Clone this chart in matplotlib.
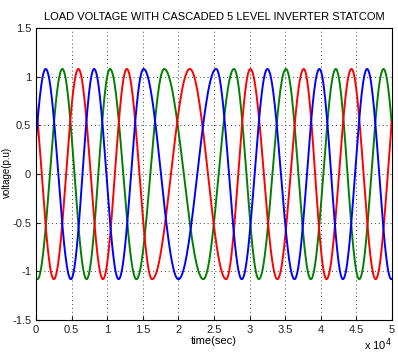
import numpy as np
import matplotlib
matplotlib.use("Agg")
import matplotlib.pyplot as plt
from matplotlib.ticker import FuncFormatter

plt.rcParams['font.family'] = ['Liberation Sans', 'DejaVu Sans']

# peak / trough positions (x 1e4), alternating sign
amp = 1.08
blue_t = [-0.21, 0.136, 0.49, 0.816, 1.16, 1.51, 2.00, 2.53, 2.89, 3.25,
          3.63, 3.98, 4.31, 4.65, 4.99, 5.33]
blue_s = -1
green_t = [-0.33, 0.02, 0.37, 0.71, 1.04, 1.41, 1.80, 2.35, 2.78, 3.13,
           3.51, 3.86, 4.21, 4.54, 4.88, 5.22]
green_s = 1
red_t = [-0.09, 0.25, 0.595, 0.94, 1.275, 1.63, 2.16, 2.67, 3.01, 3.39,
         3.76, 4.08, 4.43, 4.77, 5.11]
red_s = 1

xticks = np.arange(0, 5.01, 0.5)
yticks = np.arange(-1.5, 1.51, 0.5)


def wave(times, first_sign, n=60):
    xs, ys = [], []
    for i in range(len(times) - 1):
        t0, t1 = times[i], times[i + 1]
        v0 = amp * first_sign * (-1) ** i
        u = np.linspace(0, 1, n, endpoint=False)
        xs.append(t0 + u * (t1 - t0))
        ys.append(v0 * np.cos(np.pi * u))
    x = np.concatenate(xs) * 1e4
    y = np.concatenate(ys)
    keep = (x >= 0) & (x <= 5e4)
    return x[keep], y[keep]


fig = plt.figure(figsize=(3.98, 3.6), dpi=100)
ax = fig.add_axes([0.0905, 0.111, 0.8945, 0.811])

for times, sign, col in [(green_t, green_s, '#008000'),
                         (red_t, red_s, '#ff0000'),
                         (blue_t, blue_s, '#0000ff')]:
    x, y = wave(times, sign)
    ax.plot(x, y, color=col, lw=1.4)

ax.set_xlim(0, 5e4)
ax.set_ylim(-1.5, 1.5)
ax.set_xticks(xticks * 1e4)
ax.set_yticks(yticks)
ax.xaxis.set_major_formatter(FuncFormatter(lambda v, p: '%g' % (v / 1e4)))
ax.yaxis.set_major_formatter(FuncFormatter(lambda v, p: '%g' % v))
ax.grid(True, color='0.25', linestyle=(0, (1, 3)), linewidth=0.7)
ax.tick_params(direction='in', labelsize=8, length=3, colors='#222222')
ax.set_xlabel('time(sec)', fontsize=8, labelpad=1)
fig.text(0.005, 0.52, 'voltage(p.u)', rotation=90, ha='left', va='center',
         fontsize=7)
fig.text(0.985, 0.02, r'x 10$^4$', ha='right', va='bottom', fontsize=8)
ax.set_title('LOAD VOLTAGE WITH CASCADED 5 LEVEL INVERTER STATCOM', fontsize=8)

fig.savefig('out.png', dpi=100)
